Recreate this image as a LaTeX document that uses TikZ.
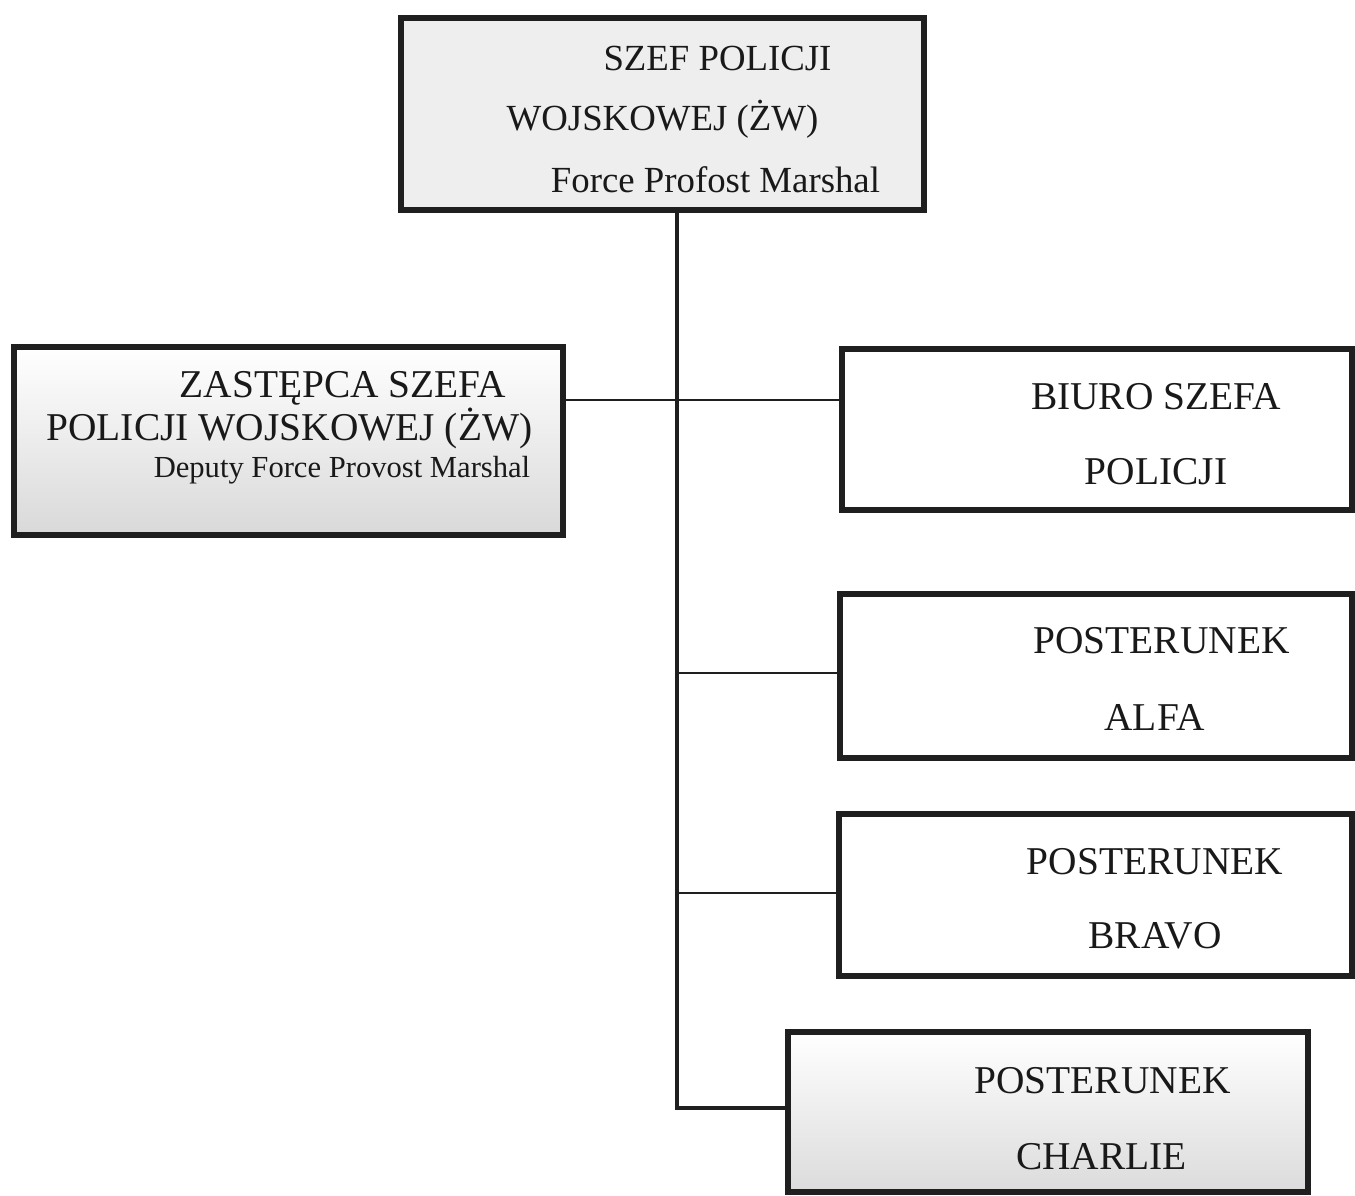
\documentclass[tikz,border=0pt]{standalone}
\usepackage{fontspec}
\setmainfont{Liberation Serif}
\begin{document}
\begin{tikzpicture}[x=0.5pt,y=-0.5pt,
  box/.style={draw=black!88, line width=2.6pt, inner sep=0pt, rectangle},
  lbl/.style={anchor=base, inner sep=0pt, text=black!90},
  fa/.style={font=\fontsize{18.4}{22}\selectfont},
  fb/.style={font=\fontsize{19.7}{24}\selectfont},
  fc/.style={font=\fontsize{15.3}{18}\selectfont},
  trunk/.style={line width=2.1pt, draw=black!88},
  branch/.style={line width=1.2pt, draw=black!88}]
\useasboundingbox (0,0) rectangle (1355,1195);
\fill[white] (0,0) rectangle (1355,1195);
% boxes
\node (top) [box, fill=gray!13, minimum width=261.5pt, minimum height=96pt] at (662.5,114) {};
\node (dep) [box, top color=white, bottom color=gray!30, minimum width=274.5pt, minimum height=94pt] at (288.5,441) {};
\node (biuro) [box, fill=white, minimum width=255pt, minimum height=80.5pt] at (1097,429.5) {};
\node (alfa) [box, fill=white, minimum width=256pt, minimum height=82pt] at (1096,676) {};
\node (bravo) [box, fill=white, minimum width=256.5pt, minimum height=81pt] at (1095.5,895) {};
\node (charlie) [box, top color=white, bottom color=gray!28, minimum width=260pt, minimum height=80pt] at (1048,1112) {};
% labels
\node (t1) [lbl, fa] at (717.5,70) {SZEF POLICJI};
\node (t2) [lbl, fa] at (662.5,130) {WOJSKOWEJ (ŻW)};
\node (t3) [lbl, fa] at (715.5,192) {Force Profost Marshal};
\node (d1) [lbl, fb] at (343,397) {ZASTĘPCA SZEFA};
\node (d2) [lbl, fb] at (289.5,440) {POLICJI WOJSKOWEJ (ŻW)};
\node (d3) [lbl, fc] at (342,477) {Deputy Force Provost Marshal};
\node (b1) [lbl, fb] at (1156,409) {BIURO SZEFA};
\node (b2) [lbl, fb] at (1156,484) {POLICJI};
\node (a1) [lbl, fb] at (1161.5,653) {POSTERUNEK};
\node (a2) [lbl, fb] at (1154.5,730) {ALFA};
\node (r1) [lbl, fb] at (1155,874) {POSTERUNEK};
\node (r2) [lbl, fb] at (1155,948) {BRAVO};
\node (c1) [lbl, fb] at (1102.5,1093) {POSTERUNEK};
\node (c2) [lbl, fb] at (1101.5,1169) {CHARLIE};
% connectors
\coordinate (j) at (677,1108);
\coordinate (hd) at (677,400);
\coordinate (ha) at (677,673);
\coordinate (hb) at (677,893);
\draw[branch] (hd -| dep.east) -- (hd -| biuro.west);
\draw[branch] (ha) -- (ha -| alfa.west);
\draw[branch] (hb) -- (hb -| bravo.west);
\draw[trunk] (j |- top.south) -- (j) -- (j -| charlie.west);
\end{tikzpicture}
\end{document}
